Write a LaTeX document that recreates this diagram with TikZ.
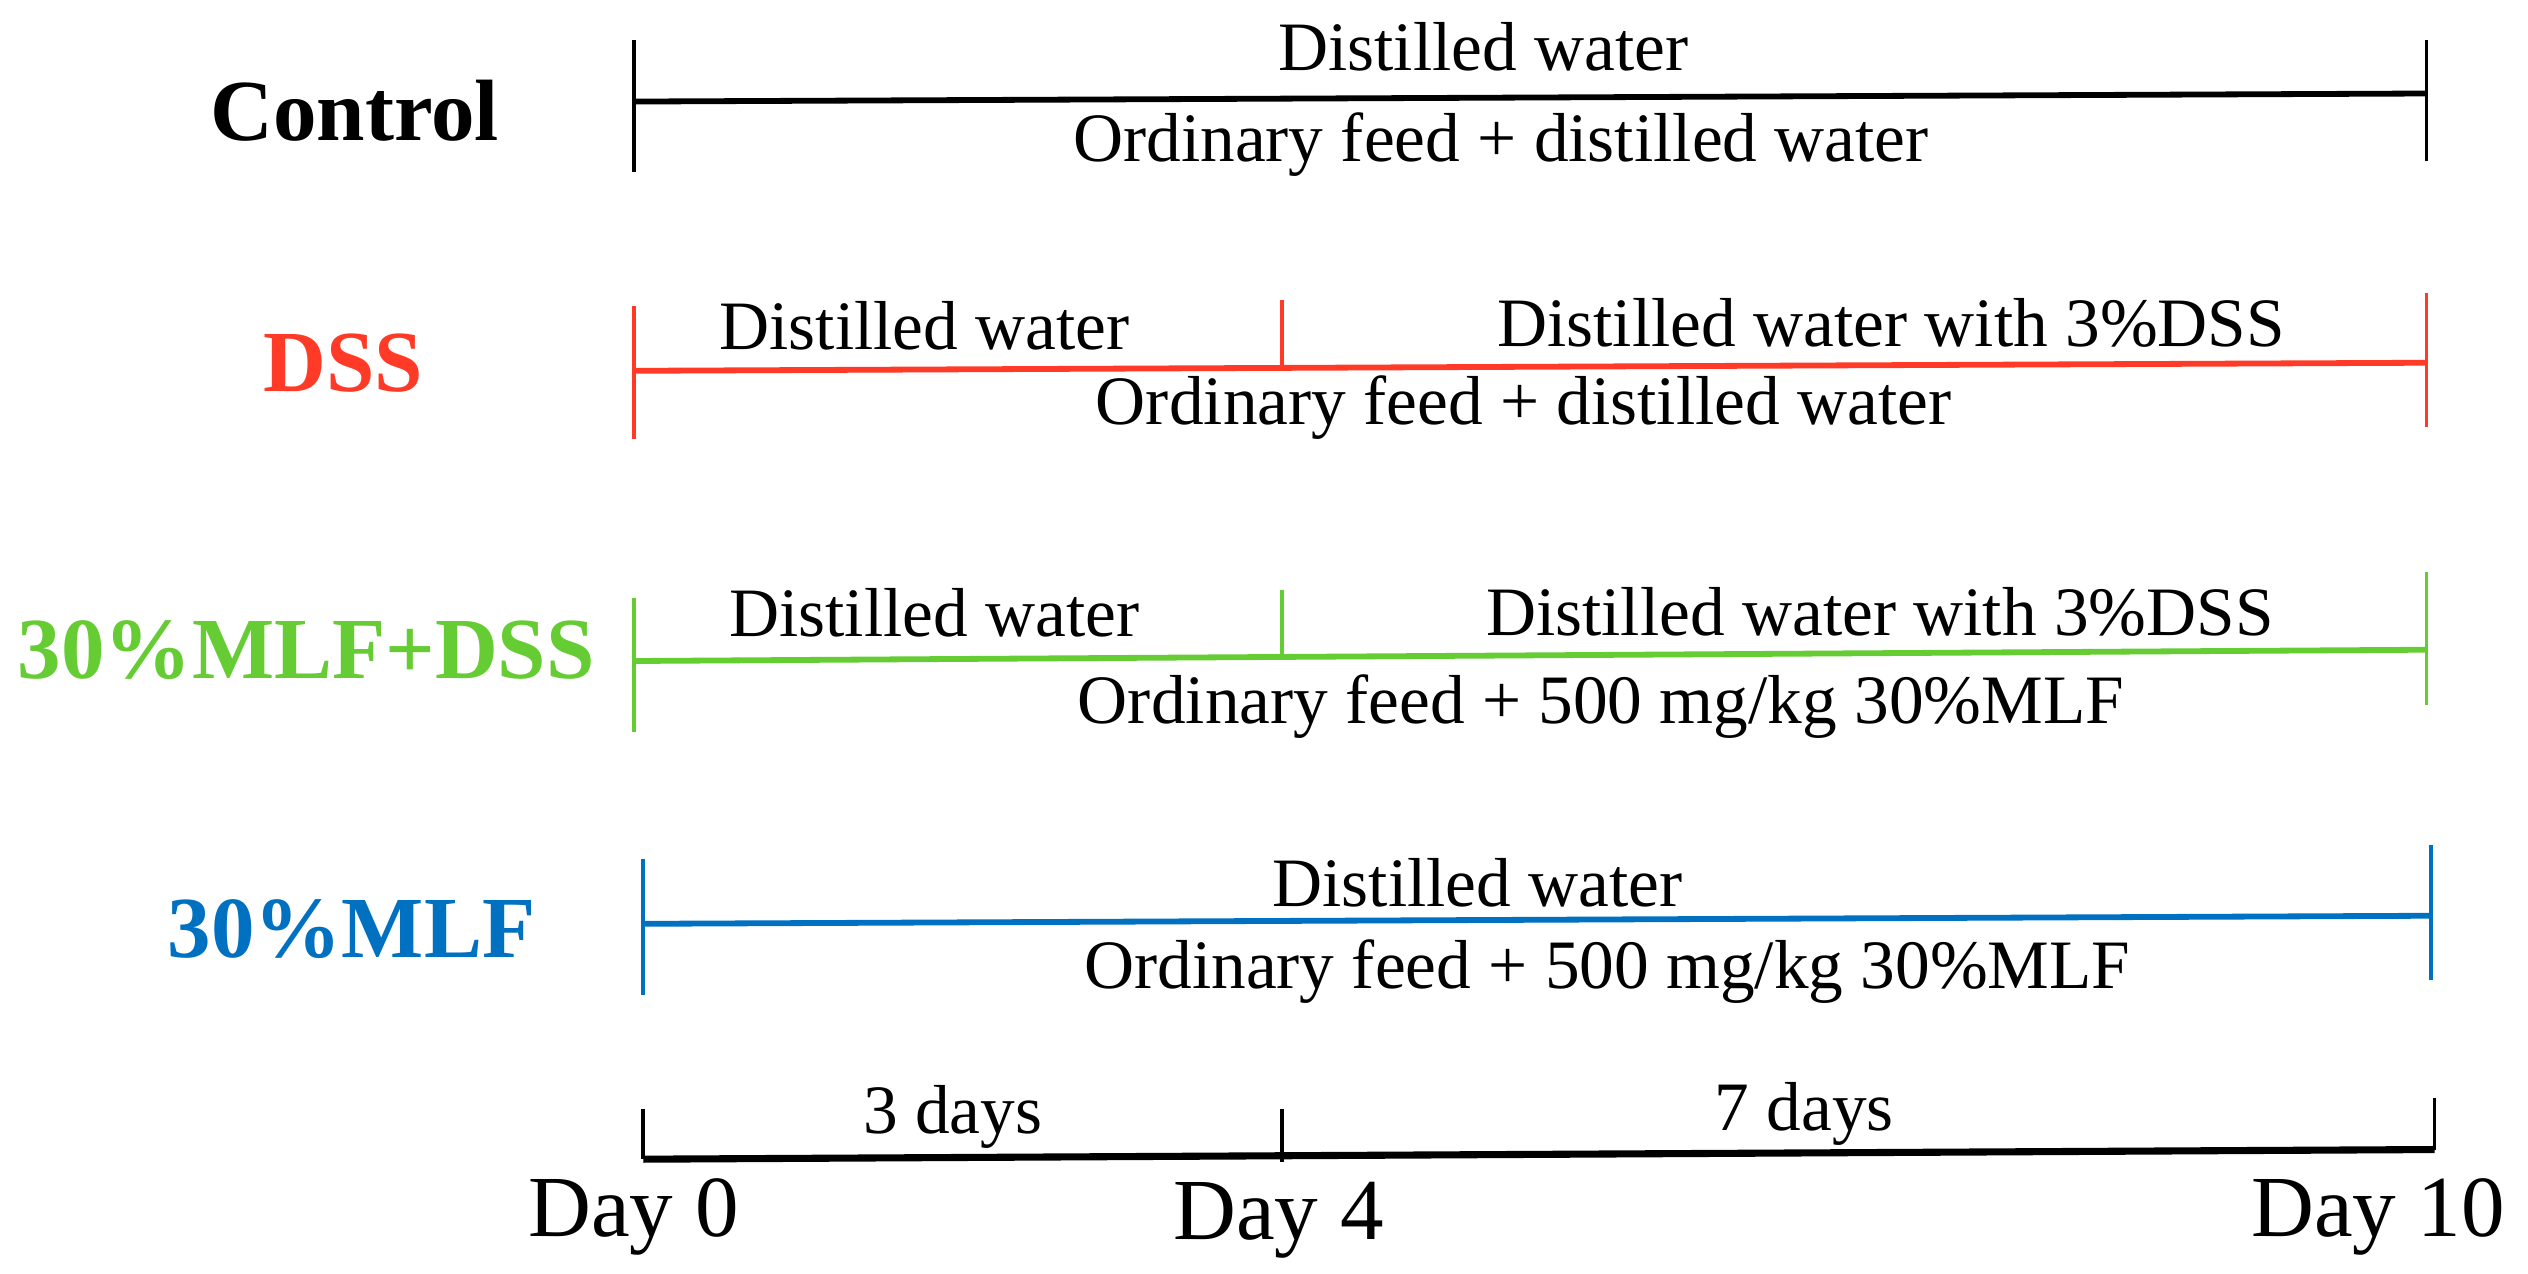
\documentclass[tikz,border=0pt]{standalone}
\usepackage{fontspec}
\setmainfont{Liberation Serif}
\definecolor{cred}{RGB}{255,59,40}
\definecolor{cgreen}{RGB}{102,204,51}
\definecolor{cblue}{RGB}{0,112,192}
\begin{document}
\begin{tikzpicture}[x=0.5pt,y=-0.5pt,
  txt/.style={anchor=base,inner sep=0pt,font=\fontsize{21.5}{24}\selectfont},
  grp/.style={anchor=base,inner sep=0pt,font=\fontsize{27}{30}\selectfont\bfseries},
  daylab/.style={anchor=base,inner sep=0pt,font=\fontsize{27}{30}\selectfont},
  tl/.style={line width=1.2pt},
  hl/.style={line width=1.8pt},
  ax/.style={line width=2.2pt}]
\useasboundingbox (0,0) rectangle (1568,790);
\fill[white] (0,0) rectangle (1568,790);

% Control
\coordinate (c0t) at (393,25); \coordinate (c0b) at (393,107);
\coordinate (c0m) at (393,63);
\coordinate (c1t) at (1505,25); \coordinate (c1b) at (1505,100);
\coordinate (c1m) at (1505,58);
\draw[tl] (c0t) -- (c0b);
\draw[tl] (c1t) -- (c1b);
\draw[hl] (c0m) -- (c1m);
\node[grp] (lc) at (220,87) {Control};
\node[txt] (cw) at (920,44) {Distilled water};
\node[txt] (cf) at (931,100) {Ordinary feed + distilled water};

% DSS
\begin{scope}[cred]
\coordinate (d0t) at (393,190); \coordinate (d0b) at (393,272);
\coordinate (d0m) at (393,230);
\coordinate (d4t) at (795,186); \coordinate (d4m) at (795,229);
\coordinate (d1t) at (1505,182); \coordinate (d1b) at (1505,265);
\coordinate (d1m) at (1505,225);
\draw[tl] (d0t) -- (d0b);
\draw[tl] (d4t) -- (d4m);
\draw[tl] (d1t) -- (d1b);
\draw[hl] (d0m) -- (d1m);
\node[grp,text=cred] (ld) at (213,243) {DSS};
\end{scope}
\node[txt] (dw) at (573.5,217) {Distilled water};
\node[txt] (dx) at (1173,215) {Distilled water with 3\%DSS};
\node[txt] (df) at (945,263.5) {Ordinary feed + distilled water};

% 30%MLF+DSS
\begin{scope}[cgreen]
\coordinate (g0t) at (393,371); \coordinate (g0b) at (393,454);
\coordinate (g0m) at (393,410);
\coordinate (g4t) at (795,366); \coordinate (g4m) at (795,409);
\coordinate (g1t) at (1505,355); \coordinate (g1b) at (1505,437);
\coordinate (g1m) at (1505,403);
\draw[tl] (g0t) -- (g0b);
\draw[tl] (g4t) -- (g4m);
\draw[tl] (g1t) -- (g1b);
\draw[hl] (g0m) -- (g1m);
\node[grp,text=cgreen] (lg) at (190,421) {30\%MLF+DSS};
\end{scope}
\node[txt] (gw) at (579.5,395) {Distilled water};
\node[txt] (gx) at (1166,394) {Distilled water with 3\%DSS};
\node[txt] (gf) at (993,448.6) {Ordinary feed + 500 mg/kg 30\%MLF};

% 30%MLF
\begin{scope}[cblue]
\coordinate (b0t) at (399,533); \coordinate (b0b) at (399,617);
\coordinate (b0m) at (399,573);
\coordinate (b1t) at (1508,524); \coordinate (b1b) at (1508,608);
\coordinate (b1m) at (1508,568);
\draw[tl] (b0t) -- (b0b);
\draw[tl] (b1t) -- (b1b);
\draw[hl] (b0m) -- (b1m);
\node[grp,text=cblue] (lb) at (218,594) {30\%MLF};
\end{scope}
\node[txt] (bw) at (916.5,562) {Distilled water};
\node[txt] (bf) at (997,613) {Ordinary feed + 500 mg/kg 30\%MLF};

% axis
\coordinate (a0t) at (399,688); \coordinate (a0m) at (399,719);
\coordinate (a4t) at (795,688); \coordinate (a4m) at (795,721);
\coordinate (a1t) at (1510,681); \coordinate (a1m) at (1510,713);
\draw[tl] (a0t) -- (a0m);
\draw[tl] (a4t) -- (a4m);
\draw[tl] (a1t) -- (a1m);
\draw[ax] (a0m) -- (a1m);
\node[txt] (t3) at (591,703) {3 days};
\node[txt] (t7) at (1119,701) {7 days};
\node[daylab] (day0) at (393,767) {Day 0};
\node[daylab] (day4) at (793,769) {Day 4};
\node[daylab] (day10) at (1475,767) {Day 10};
\end{tikzpicture}
\end{document}
